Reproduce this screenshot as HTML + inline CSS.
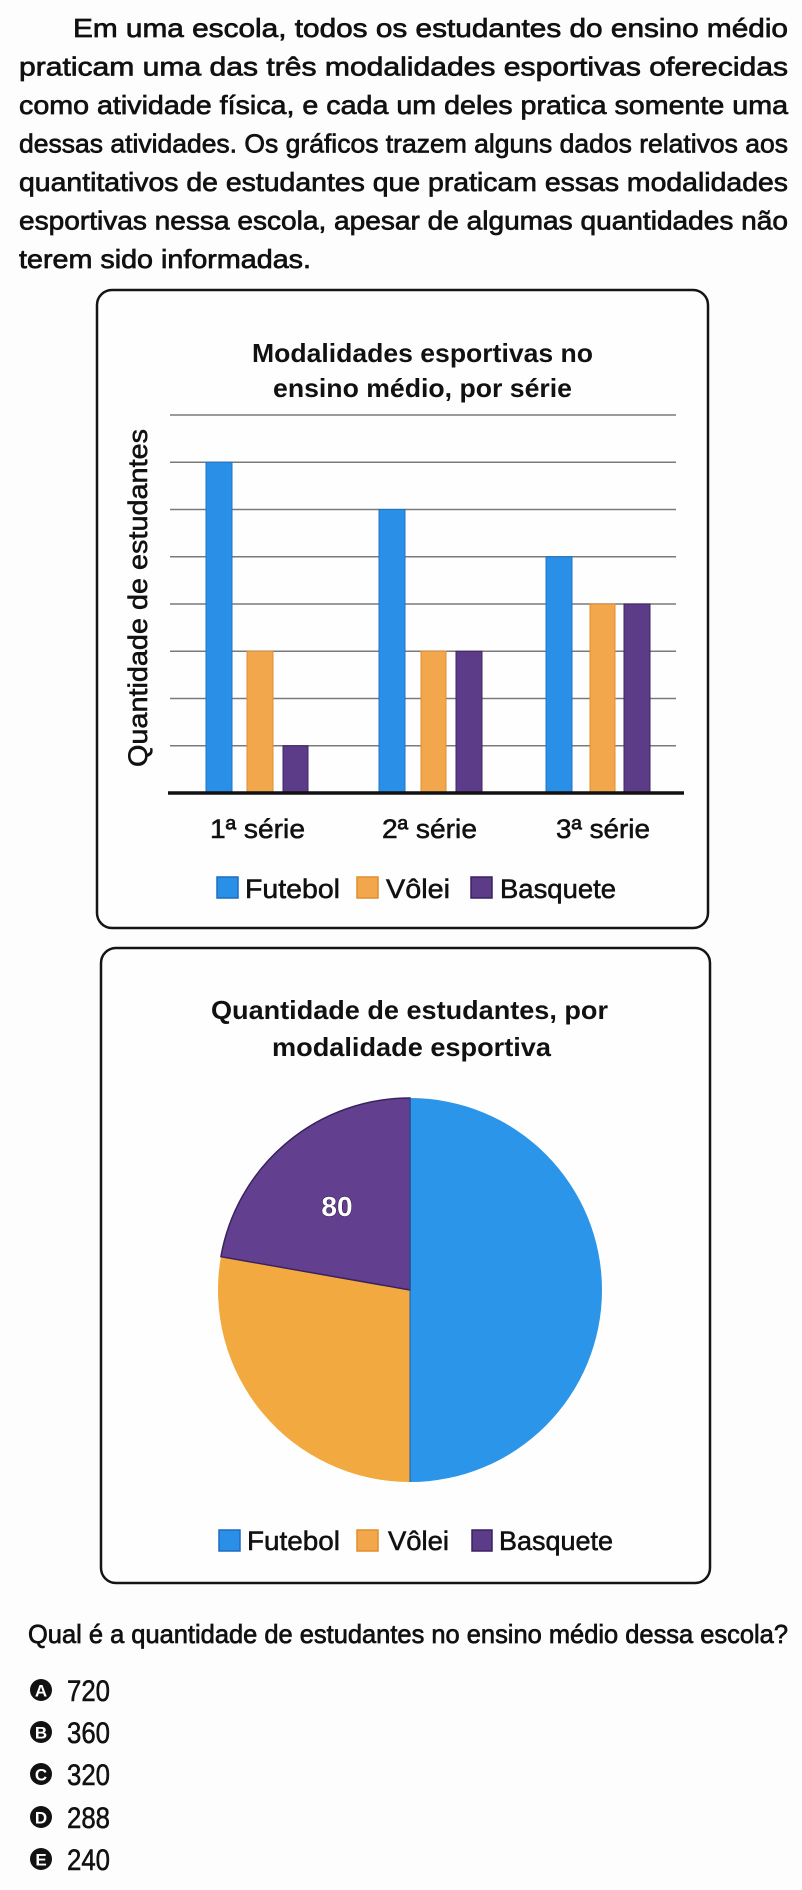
<!DOCTYPE html>
<html>
<head>
<meta charset="utf-8">
<style>
  html,body{margin:0;padding:0;background:#fdfdfd;}
  svg{display:block;}
  .p{font-family:"Liberation Sans",sans-serif;font-size:26px;fill:#111;stroke:#111;stroke-width:0.7;}
  .b{font-family:"Liberation Sans",sans-serif;font-weight:bold;fill:#111;}
  .r{font-family:"Liberation Sans",sans-serif;fill:#111;stroke:#111;stroke-width:0.55;}
</style>
</head>
<body>
<svg width="802" height="1890" viewBox="0 0 802 1890" xmlns="http://www.w3.org/2000/svg">
  <rect x="0" y="0" width="802" height="1890" fill="#fdfdfd"/>

  <!-- Paragraph -->
  <text class="p" x="73" y="37" textLength="715" lengthAdjust="spacingAndGlyphs">Em uma escola, todos os estudantes do ensino médio</text>
  <text class="p" x="19" y="75.5" textLength="769" lengthAdjust="spacingAndGlyphs">praticam uma das três modalidades esportivas oferecidas</text>
  <text class="p" x="19" y="114" textLength="769" lengthAdjust="spacingAndGlyphs">como atividade física, e cada um deles pratica somente uma</text>
  <text class="p" x="19" y="152.5" textLength="769" lengthAdjust="spacingAndGlyphs">dessas atividades. Os gráficos trazem alguns dados relativos aos</text>
  <text class="p" x="19" y="191" textLength="769" lengthAdjust="spacingAndGlyphs">quantitativos de estudantes que praticam essas modalidades</text>
  <text class="p" x="19" y="229.5" textLength="769" lengthAdjust="spacingAndGlyphs">esportivas nessa escola, apesar de algumas quantidades não</text>
  <text class="p" x="19" y="268" textLength="292" lengthAdjust="spacingAndGlyphs">terem sido informadas.</text>

  <!-- Bar chart box -->
  <rect x="97" y="290" width="611" height="638" rx="15" ry="15" fill="#fefefe" stroke="#151515" stroke-width="2.5"/>
  <text class="b" x="252" y="362" font-size="26" textLength="341" lengthAdjust="spacingAndGlyphs">Modalidades esportivas no</text>
  <text class="b" x="273" y="397" font-size="26" textLength="299" lengthAdjust="spacingAndGlyphs">ensino médio, por série</text>

  <!-- gridlines -->
  <g stroke="#7a7a7a" stroke-width="1.4">
    <line x1="170" y1="415" x2="676" y2="415"/>
    <line x1="170" y1="462.25" x2="676" y2="462.25"/>
    <line x1="170" y1="509.5" x2="676" y2="509.5"/>
    <line x1="170" y1="556.75" x2="676" y2="556.75"/>
    <line x1="170" y1="604" x2="676" y2="604"/>
    <line x1="170" y1="651.25" x2="676" y2="651.25"/>
    <line x1="170" y1="698.5" x2="676" y2="698.5"/>
    <line x1="170" y1="745.75" x2="676" y2="745.75"/>
  </g>

  <!-- bars -->
  <g stroke-width="1">
    <rect x="206" y="462.25" width="26" height="330.75" fill="#2a8fe6" stroke="#1f74c8"/>
    <rect x="247" y="651.25" width="26" height="141.75" fill="#f2a74c" stroke="#e08d2c"/>
    <rect x="283" y="745.75" width="25" height="47.25" fill="#5c3b88" stroke="#3f2466"/>

    <rect x="379" y="509.5" width="26" height="283.5" fill="#2a8fe6" stroke="#1f74c8"/>
    <rect x="421" y="651.25" width="25" height="141.75" fill="#f2a74c" stroke="#e08d2c"/>
    <rect x="456" y="651.25" width="26" height="141.75" fill="#5c3b88" stroke="#3f2466"/>

    <rect x="546" y="556.75" width="26" height="236.25" fill="#2a8fe6" stroke="#1f74c8"/>
    <rect x="590" y="604" width="25" height="189" fill="#f2a74c" stroke="#e08d2c"/>
    <rect x="624" y="604" width="26" height="189" fill="#5c3b88" stroke="#3f2466"/>
  </g>

  <!-- axis -->
  <line x1="168" y1="793" x2="684" y2="793" stroke="#111" stroke-width="3.5"/>

  <!-- y label -->
  <text class="r" font-size="27" transform="translate(147,767) rotate(-90)" x="0" y="0" textLength="338" lengthAdjust="spacingAndGlyphs">Quantidade de estudantes</text>

  <!-- category labels -->
  <text class="r" font-size="27" x="210" y="838" textLength="95" lengthAdjust="spacingAndGlyphs">1ª série</text>
  <text class="r" font-size="27" x="382" y="838" textLength="95" lengthAdjust="spacingAndGlyphs">2ª série</text>
  <text class="r" font-size="27" x="556" y="838" textLength="94" lengthAdjust="spacingAndGlyphs">3ª série</text>

  <!-- bar legend -->
  <rect x="217" y="877" width="21" height="21" fill="#2a8fe6" stroke="#1f6cc0" stroke-width="1.5"/>
  <text class="r" font-size="27" x="245" y="898" textLength="95" lengthAdjust="spacingAndGlyphs">Futebol</text>
  <rect x="357" y="877" width="21" height="21" fill="#f2a74c" stroke="#e08d2c" stroke-width="1.5"/>
  <text class="r" font-size="27" x="386" y="898" textLength="64" lengthAdjust="spacingAndGlyphs">Vôlei</text>
  <rect x="471" y="877" width="21" height="21" fill="#5c3b88" stroke="#3a2260" stroke-width="1.5"/>
  <text class="r" font-size="27" x="500" y="898" textLength="116" lengthAdjust="spacingAndGlyphs">Basquete</text>

  <!-- Pie box -->
  <rect x="101" y="948" width="609" height="635" rx="15" ry="15" fill="#fefefe" stroke="#151515" stroke-width="2.5"/>
  <text class="b" x="211" y="1019" font-size="26" textLength="397" lengthAdjust="spacingAndGlyphs">Quantidade de estudantes, por</text>
  <text class="b" x="272" y="1056" font-size="26" textLength="279" lengthAdjust="spacingAndGlyphs">modalidade esportiva</text>

  <!-- pie: center (410,1290) r 192 -->
  <path d="M410,1290 L410,1098 A192,192 0 0,1 410,1482 Z" fill="#2b95ea"/>
  <path d="M410,1290 L410,1482 A192,192 0 0,1 220.9,1256.7 Z" fill="#f2aa40"/>
  <path d="M410,1290 L220.9,1256.7 A192,192 0 0,1 410,1098 Z" fill="#62408f" stroke="#3a2260" stroke-width="1.5"/>
  <line x1="410" y1="1098" x2="410" y2="1482" stroke="#2a5aa0" stroke-width="1"/>

  <text x="337" y="1216" font-family="Liberation Sans, sans-serif" font-weight="bold" font-size="28" text-anchor="middle" fill="#fff" stroke="#2a1a40" stroke-width="1" paint-order="stroke">80</text>

  <!-- pie legend -->
  <rect x="219" y="1530" width="21" height="21" fill="#2a8fe6" stroke="#1f6cc0" stroke-width="1.5"/>
  <text class="r" font-size="27" x="247" y="1550" textLength="93" lengthAdjust="spacingAndGlyphs">Futebol</text>
  <rect x="357" y="1530" width="21" height="21" fill="#f2a74c" stroke="#e08d2c" stroke-width="1.5"/>
  <text class="r" font-size="27" x="388" y="1550" textLength="61" lengthAdjust="spacingAndGlyphs">Vôlei</text>
  <rect x="472" y="1530" width="20" height="21" fill="#5c3b88" stroke="#3a2260" stroke-width="1.5"/>
  <text class="r" font-size="27" x="499" y="1550" textLength="114" lengthAdjust="spacingAndGlyphs">Basquete</text>

  <!-- Question -->
  <text class="p" x="28" y="1643" textLength="760" lengthAdjust="spacingAndGlyphs">Qual é a quantidade de estudantes no ensino médio dessa escola?</text>

  <!-- Options -->
  <g font-family="Liberation Sans, sans-serif">
    <circle cx="41" cy="1690" r="11" fill="#111"/>
    <text x="41" y="1696.5" font-size="17" font-weight="bold" fill="#fff" text-anchor="middle">A</text>
    <text class="r" x="67" y="1701" font-size="30" textLength="43" lengthAdjust="spacingAndGlyphs">720</text>

    <circle cx="41" cy="1732" r="11" fill="#111"/>
    <text x="41" y="1738.5" font-size="17" font-weight="bold" fill="#fff" text-anchor="middle">B</text>
    <text class="r" x="67" y="1743" font-size="30" textLength="43" lengthAdjust="spacingAndGlyphs">360</text>

    <circle cx="41" cy="1774" r="11" fill="#111"/>
    <text x="41" y="1780.5" font-size="17" font-weight="bold" fill="#fff" text-anchor="middle">C</text>
    <text class="r" x="67" y="1785" font-size="30" textLength="43" lengthAdjust="spacingAndGlyphs">320</text>

    <circle cx="41" cy="1817" r="11" fill="#111"/>
    <text x="41" y="1823.5" font-size="17" font-weight="bold" fill="#fff" text-anchor="middle">D</text>
    <text class="r" x="67" y="1828" font-size="30" textLength="43" lengthAdjust="spacingAndGlyphs">288</text>

    <circle cx="41" cy="1859" r="11" fill="#111"/>
    <text x="41" y="1865.5" font-size="17" font-weight="bold" fill="#fff" text-anchor="middle">E</text>
    <text class="r" x="67" y="1870" font-size="30" textLength="43" lengthAdjust="spacingAndGlyphs">240</text>
  </g>
</svg>
</body>
</html>
